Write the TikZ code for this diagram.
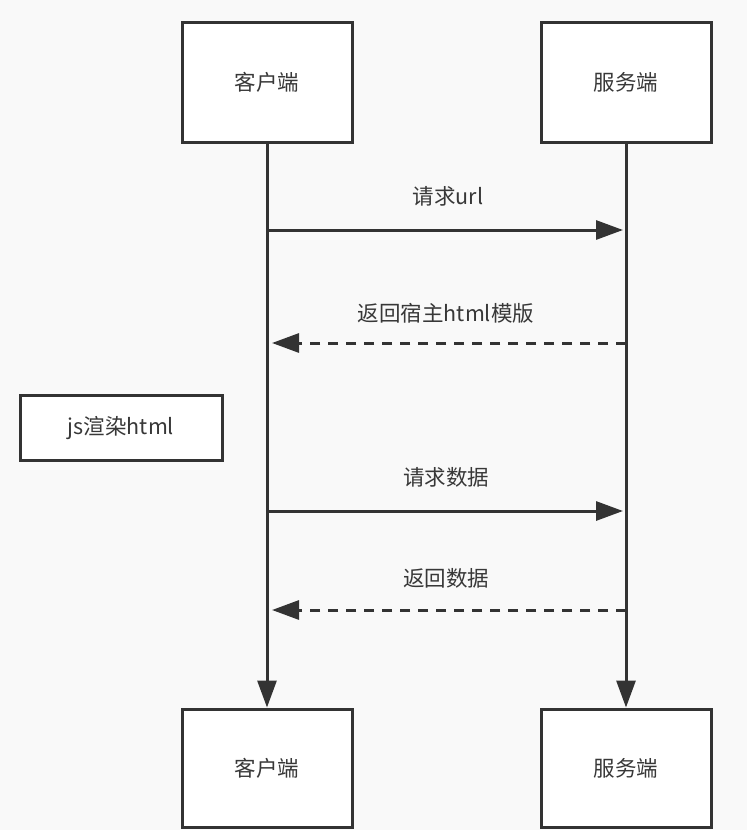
\documentclass[tikz,border=0pt]{standalone}
\usepackage{fontspec}
\setmainfont{Noto Sans CJK SC}
\usetikzlibrary{arrows.meta}
\definecolor{linegray}{HTML}{333333}
\definecolor{textgray}{HTML}{383838}
\definecolor{bggray}{HTML}{F9F9F9}
\tikzset{
  partbox/.style={draw=linegray, line width=3pt, fill=white, minimum width=170pt,
    minimum height=120pt, text=textgray, font=\fontsize{21.5}{26}\selectfont},
  notebox/.style={draw=linegray, line width=3pt, fill=white, minimum width=202pt,
    minimum height=65pt, text=textgray, font=\fontsize{21.5}{26}\selectfont},
  msglabel/.style={text=textgray, font=\fontsize{21.5}{26}\selectfont},
  msgline/.style={draw=linegray, line width=3pt, -{Triangle[length=27pt,width=19pt]}},
  replyline/.style={msgline, dash pattern=on 10pt off 8pt}
}
\begin{document}
\begin{tikzpicture}[x=1pt,y=-1pt]
\fill[bggray] (0,0) rectangle (747,830);
\useasboundingbox (0,0) rectangle (747,830);
% parts
\node[partbox] (cliTop) at (267,82) {客户端};
\node[partbox] (srvTop) at (626,82) {服务端};
\node[partbox, minimum height=118pt] (cliBot) at (267,768) {客户端};
\node[partbox, minimum height=118pt] (srvBot) at (626,768) {服务端};
\node[notebox] (render) at (121,428) {js渲染html};
% lifelines
\draw[msgline] (cliTop) -- (cliBot);
\draw[msgline] (srvTop) -- (srvBot);
% message ends
\coordinate (c1) at (267,230); \coordinate (s1) at (623,230);
\coordinate (c2) at (272,343); \coordinate (s2) at (626,343);
\coordinate (c3) at (267,511); \coordinate (s3) at (623,511);
\coordinate (c4) at (272,610); \coordinate (s4) at (626,610);
% messages
\draw[msgline] (c1) -- (s1);
\draw[replyline] (s2) -- (c2);
\draw[msgline] (c3) -- (s3);
\draw[replyline] (s4) -- (c4);
\node[msglabel] (req) at (448,196) {请求url};
\node[msglabel] (tpl) at (446,313) {返回宿主html模版};
\node[msglabel] (reqData) at (446,477) {请求数据};
\node[msglabel] (retData) at (446,578) {返回数据};
\end{tikzpicture}
\end{document}
